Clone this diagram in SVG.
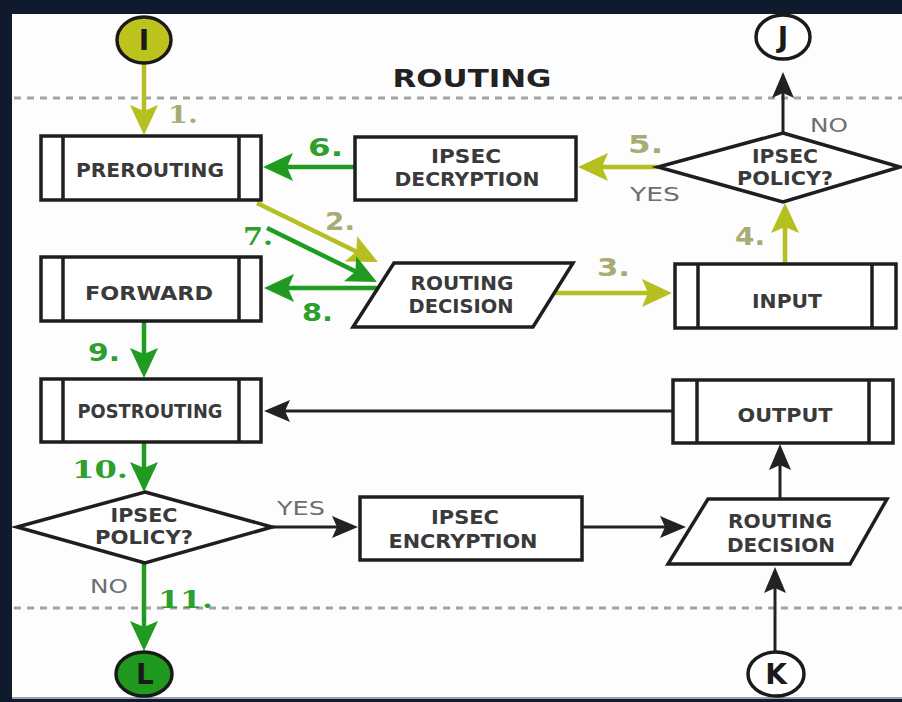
<svg xmlns="http://www.w3.org/2000/svg" width="902" height="702" viewBox="0 0 902 702">
<defs>
<style>
.box{fill:#fff;stroke:#1e1e1e;stroke-width:3.5}
.bar{stroke:#1e1e1e;stroke-width:3.5;fill:none}
.lbl{font-family:"DejaVu Sans","Liberation Sans",sans-serif;font-weight:bold;font-size:19px;fill:#3a3a3a;text-anchor:middle}
.yn{font-family:"DejaVu Sans","Liberation Sans",sans-serif;font-size:19px;fill:#6e6e6e;text-anchor:middle}
.num{font-family:"DejaVu Sans","Liberation Sans",sans-serif;font-weight:bold;font-size:25px}
.ser{font-family:"DejaVu Serif","Liberation Serif",serif;font-weight:bold;font-size:25px}
.ny{fill:#a9ab74}
.ng{fill:#2c9f2c}
.dash{stroke:#a3a3a3;stroke-width:3;stroke-dasharray:7 6;fill:none}
.ay{stroke:#b5bf1f;stroke-width:4.5;fill:none;marker-end:url(#hy)}
.ag{stroke:#1f9c1f;stroke-width:4.5;fill:none;marker-end:url(#hg)}
.ak{stroke:#222;stroke-width:3;fill:none;marker-end:url(#hk)}
.circ{stroke:#1a1a1a;stroke-width:3.5}
.cl{font-family:"DejaVu Sans","Liberation Sans",sans-serif;font-weight:bold;font-size:28px;fill:#1a1a1a;text-anchor:middle}
</style>
<marker id="hy" markerUnits="userSpaceOnUse" markerWidth="32" markerHeight="28" viewBox="0 0 32 28" refX="8" refY="14" orient="auto"><path d="M0,0 L30,14 L0,28 L6,14 z" fill="#b5bf1f"/></marker>
<marker id="hg" markerUnits="userSpaceOnUse" markerWidth="32" markerHeight="28" viewBox="0 0 32 28" refX="8" refY="14" orient="auto"><path d="M0,0 L30,14 L0,28 L6,14 z" fill="#1f9c1f"/></marker>
<marker id="hk" markerUnits="userSpaceOnUse" markerWidth="28" markerHeight="24" viewBox="0 0 28 24" refX="7" refY="12" orient="auto"><path d="M0,1 L26,12 L0,23 L5,12 z" fill="#222"/></marker>
</defs>

<rect x="0" y="0" width="902" height="702" fill="#0f1b2d"/>
<rect x="12" y="14" width="890" height="684" fill="#fdfdfd"/>
<line x1="12" y1="698" x2="902" y2="698" stroke="#9aa3ad" stroke-width="2"/>

<g id="title">
<text x="472" y="87" font-family="DejaVu Sans, Liberation Sans, sans-serif" font-weight="bold" font-size="25" fill="#222" text-anchor="middle" textLength="159" lengthAdjust="spacingAndGlyphs">ROUTING</text>
</g>
<g id="separators">
<line class="dash" x1="14" y1="98" x2="902" y2="98"/>
<line class="dash" x1="14" y1="608" x2="902" y2="608"/>
</g>

<g id="connectors">
<line class="ay" x1="144" y1="63" x2="144" y2="113"/>
<line class="ay" x1="257" y1="203" x2="358.2" y2="252.4"/>
<line class="ay" x1="555" y1="293" x2="650" y2="293"/>
<line class="ay" x1="785" y1="264" x2="785" y2="225"/>
<line class="ay" x1="658" y1="167" x2="600" y2="167"/>
<line class="ag" x1="355" y1="167" x2="285" y2="167"/>
<line class="ag" x1="267" y1="228" x2="357.2" y2="272.3"/>
<line class="ag" x1="377" y1="288" x2="286" y2="288"/>
<line class="ag" x1="144" y1="321" x2="144" y2="356"/>
<line class="ag" x1="144" y1="443" x2="144" y2="470"/>
<line class="ag" x1="144" y1="563" x2="144" y2="629"/>
<line class="ak" x1="783" y1="133" x2="783" y2="91"/>
<line class="ak" x1="673" y1="411" x2="283" y2="411"/>
<line class="ak" x1="272" y1="527" x2="339" y2="527"/>
<line class="ak" x1="583" y1="527" x2="667" y2="527"/>
<line class="ak" x1="780" y1="499" x2="780" y2="463"/>
<line class="ak" x1="775" y1="651" x2="775" y2="586"/>
<text class="ser ny" x="168" y="123" textLength="30" lengthAdjust="spacingAndGlyphs">1.</text>
<text class="num ny" x="325" y="230" textLength="30" lengthAdjust="spacingAndGlyphs">2.</text>
<text class="num ny" x="597" y="276" textLength="33" lengthAdjust="spacingAndGlyphs">3.</text>
<text class="num ny" x="735" y="245" textLength="30" lengthAdjust="spacingAndGlyphs">4.</text>
<text class="num ny" x="628" y="153" textLength="35" lengthAdjust="spacingAndGlyphs">5.</text>
<text class="num ng" x="308" y="156" textLength="35" lengthAdjust="spacingAndGlyphs">6.</text>
<text class="ser ng" x="243" y="245" textLength="30" lengthAdjust="spacingAndGlyphs">7.</text>
<text class="num ng" x="302" y="321" textLength="31" lengthAdjust="spacingAndGlyphs">8.</text>
<text class="num ng" x="88" y="361" textLength="32" lengthAdjust="spacingAndGlyphs">9.</text>
<text class="ser ng" x="72" y="478" textLength="56" lengthAdjust="spacingAndGlyphs">10.</text>
<text class="ser ng" x="158" y="608" textLength="55" lengthAdjust="spacingAndGlyphs">11.</text>
<text class="yn" x="655" y="201" textLength="50" lengthAdjust="spacingAndGlyphs">YES</text>
<text class="yn" x="829" y="132" textLength="38" lengthAdjust="spacingAndGlyphs">NO</text>
<text class="yn" x="301" y="515" textLength="48" lengthAdjust="spacingAndGlyphs">YES</text>
<text class="yn" x="109" y="593" textLength="38" lengthAdjust="spacingAndGlyphs">NO</text>
</g>

<g id="node-I">
<ellipse class="circ" cx="144" cy="40" rx="27" ry="23" fill="#bcc31d"/>
<text class="cl" x="144" y="50">I</text>
</g>
<g id="node-J">
<ellipse class="circ" cx="783" cy="37" rx="27" ry="22" fill="#fff"/>
<text class="cl" x="783" y="47">J</text>
</g>
<g id="node-L">
<ellipse class="circ" cx="144" cy="674" rx="28" ry="22" fill="#1f9a1f"/>
<text class="cl" x="145" y="684">L</text>
</g>
<g id="node-K">
<ellipse class="circ" cx="776" cy="674" rx="28" ry="22" fill="#fff"/>
<text class="cl" x="776" y="684">K</text>
</g>

<g id="node-prerouting">
<rect class="box" x="41" y="136" width="220" height="64"/>
<line class="bar" x1="63" y1="136" x2="63" y2="200"/>
<line class="bar" x1="239" y1="136" x2="239" y2="200"/>
<text class="lbl" x="150" y="177" textLength="148" lengthAdjust="spacingAndGlyphs">PREROUTING</text>
</g>
<g id="node-ipsec-decryption">
<rect class="box" x="355" y="137" width="221" height="63"/>
<text class="lbl" x="466" y="163" textLength="70" lengthAdjust="spacingAndGlyphs">IPSEC</text>
<text class="lbl" x="467" y="186" textLength="145" lengthAdjust="spacingAndGlyphs">DECRYPTION</text>
</g>
<g id="node-ipsec-policy-in">
<polygon class="box" points="783,133 900,167 783,202 658,167"/>
<text class="lbl" x="785" y="163" textLength="66" lengthAdjust="spacingAndGlyphs">IPSEC</text>
<text class="lbl" x="785" y="185" textLength="96" lengthAdjust="spacingAndGlyphs">POLICY?</text>
</g>
<g id="node-forward">
<rect class="box" x="41" y="257" width="220" height="64"/>
<line class="bar" x1="63" y1="257" x2="63" y2="321"/>
<line class="bar" x1="239" y1="257" x2="239" y2="321"/>
<text class="lbl" x="149" y="300" textLength="128" lengthAdjust="spacingAndGlyphs">FORWARD</text>
</g>
<g id="node-routing-decision-1">
<polygon class="box" points="394,263 573,263 533,327 353,327"/>
<text class="lbl" x="462" y="290" textLength="103" lengthAdjust="spacingAndGlyphs">ROUTING</text>
<text class="lbl" x="461" y="313" textLength="105" lengthAdjust="spacingAndGlyphs">DECISION</text>
</g>
<g id="node-input">
<rect class="box" x="675" y="264" width="221" height="64"/>
<line class="bar" x1="698" y1="264" x2="698" y2="328"/>
<line class="bar" x1="872" y1="264" x2="872" y2="328"/>
<text class="lbl" x="787" y="308" textLength="70" lengthAdjust="spacingAndGlyphs">INPUT</text>
</g>
<g id="node-postrouting">
<rect class="box" x="41" y="379" width="220" height="63"/>
<line class="bar" x1="63" y1="379" x2="63" y2="442"/>
<line class="bar" x1="239" y1="379" x2="239" y2="442"/>
<text class="lbl" x="150" y="418" textLength="145" lengthAdjust="spacingAndGlyphs">POSTROUTING</text>
</g>
<g id="node-output">
<rect class="box" x="673" y="380" width="220" height="63"/>
<line class="bar" x1="697" y1="380" x2="697" y2="443"/>
<line class="bar" x1="869" y1="380" x2="869" y2="443"/>
<text class="lbl" x="785" y="422" textLength="95" lengthAdjust="spacingAndGlyphs">OUTPUT</text>
</g>
<g id="node-ipsec-policy-out">
<polygon class="box" points="145,492 272,527 145,563 17,527"/>
<text class="lbl" x="144" y="522" textLength="67" lengthAdjust="spacingAndGlyphs">IPSEC</text>
<text class="lbl" x="144" y="544" textLength="98" lengthAdjust="spacingAndGlyphs">POLICY?</text>
</g>
<g id="node-ipsec-encryption">
<rect class="box" x="360" y="497" width="222" height="63"/>
<text class="lbl" x="465" y="524" textLength="68" lengthAdjust="spacingAndGlyphs">IPSEC</text>
<text class="lbl" x="463" y="548" textLength="149" lengthAdjust="spacingAndGlyphs">ENCRYPTION</text>
</g>
<g id="node-routing-decision-2">
<polygon class="box" points="708,499 887,499 850,564 668,564"/>
<text class="lbl" x="780" y="528" textLength="104" lengthAdjust="spacingAndGlyphs">ROUTING</text>
<text class="lbl" x="781" y="552" textLength="108" lengthAdjust="spacingAndGlyphs">DECISION</text>
</g>
</svg>
